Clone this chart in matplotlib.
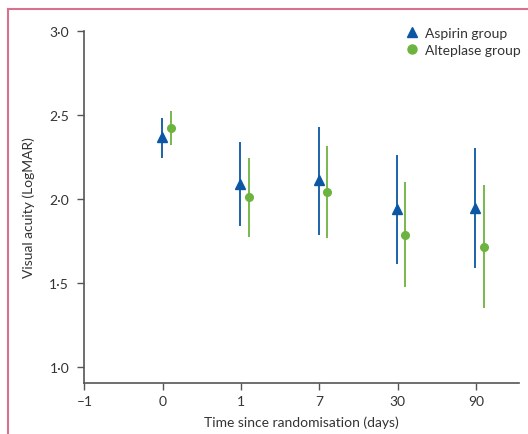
import matplotlib
matplotlib.use("Agg")
import matplotlib.pyplot as plt
from matplotlib.lines import Line2D

# visual acuity (LogMAR), mean with 95% CI
day_labels = ["–1", "0", "1", "7", "30", "90"]
aspirin_mean = [2.37, 2.09, 2.11, 1.94, 1.945]
aspirin_low = [2.245, 1.84, 1.785, 1.615, 1.59]
aspirin_high = [2.48, 2.34, 2.425, 2.26, 2.30]
alteplase_mean = [2.42, 2.01, 2.04, 1.785, 1.715]
alteplase_low = [2.32, 1.775, 1.765, 1.475, 1.35]
alteplase_high = [2.525, 2.245, 2.315, 2.10, 2.08]
y_ticks = [1.0, 1.5, 2.0, 2.5, 3.0]
y_labels = ["1·0", "1·5", "2·0", "2·5", "3·0"]

blue = "#0b57a3"
green = "#6db33f"
axis_grey = "#555555"
text_grey = "#333333"

plt.rcParams["font.family"] = ["Lato", "DejaVu Sans"]

fig = plt.figure(figsize=(5.28, 4.35), dpi=100)
ax = fig.add_axes([0.160, 0.117, 0.823, 0.810])

n = len(aspirin_mean)
xa = [i - 0.01 for i in range(n)]
xb = [i + 0.10 for i in range(n)]

ax.vlines(xa, aspirin_low, aspirin_high, color=blue, lw=1.3)
ax.vlines(xb, alteplase_low, alteplase_high, color=green, lw=1.3)
ax.plot(xa, aspirin_mean, ls="none", marker="^", ms=6.5, color=blue)
ax.plot(xb, alteplase_mean, ls="none", marker="o", ms=5.5, color=green)

ax.set_xlim(-1, 4.55)
ax.set_ylim(0.905, 3.0)
ax.set_xticks(range(-1, n))
ax.set_xticklabels(day_labels)
ax.set_yticks(y_ticks)
ax.set_yticklabels(y_labels)

for side in ["top", "right"]:
    ax.spines[side].set_visible(False)
for side in ["left", "bottom"]:
    ax.spines[side].set_color(axis_grey)
    ax.spines[side].set_linewidth(1.2)
ax.tick_params(colors=axis_grey, labelcolor=text_grey, labelsize=10, length=5, width=1)
ax.tick_params(axis="y", pad=6)

ax.set_xlabel("Time since randomisation (days)", fontsize=10, color=text_grey, labelpad=6)
ax.set_ylabel("Visual acuity (LogMAR)", fontsize=10, color=text_grey, labelpad=10)

handles = [
    Line2D([], [], ls="none", marker="^", ms=6.5, color=blue),
    Line2D([], [], ls="none", marker="o", ms=6.5, color=green),
]
ax.legend(handles, ["Aspirin group", "Alteplase group"], loc="upper left",
          bbox_to_anchor=(0.74, 0.965), bbox_transform=fig.transFigure,
          frameon=False, fontsize=10, handletextpad=0.4, labelspacing=0.35,
          handlelength=1.2, labelcolor=text_grey)

# pink frame at top and left
pink = "#d9708c"
fig.add_artist(Line2D([8 / 528, 8 / 528], [0, 1 - 10 / 435], color=pink, lw=1.5))
fig.add_artist(Line2D([8 / 528, 1], [1 - 10 / 435, 1 - 10 / 435], color=pink, lw=1.5))

fig.savefig("out.png", dpi=100)
